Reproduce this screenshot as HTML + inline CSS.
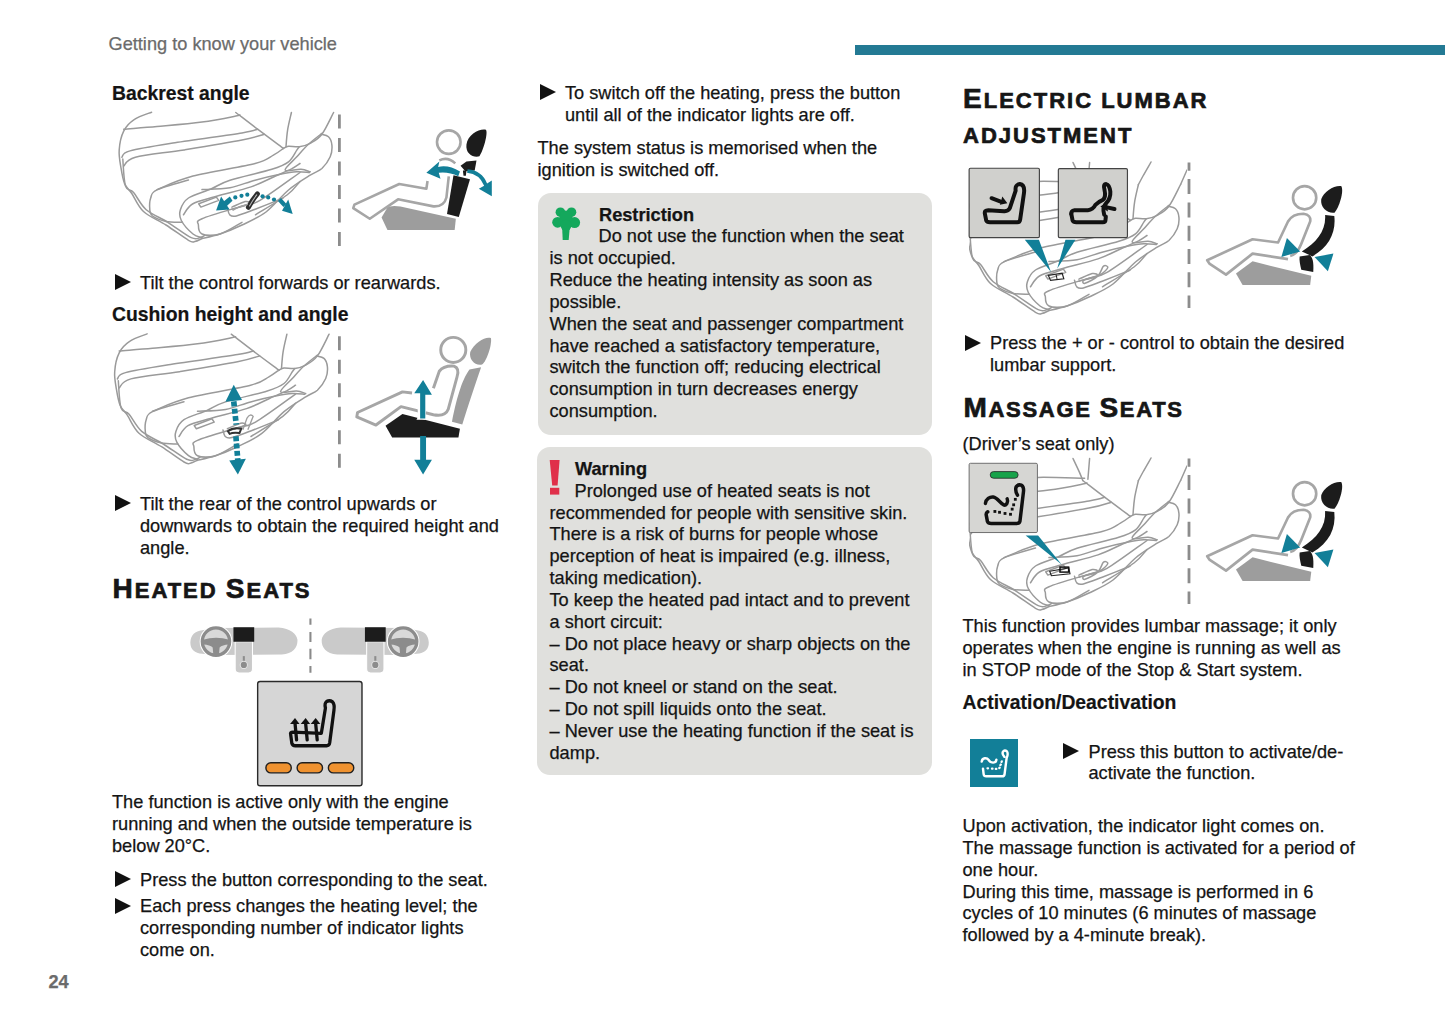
<!DOCTYPE html>
<html><head><meta charset="utf-8">
<style>
html,body{margin:0;padding:0;background:#fff;}
body{width:1445px;height:1018px;position:relative;overflow:hidden;}
.t{position:absolute;font:18.2px/21.85px "Liberation Sans",sans-serif;color:#141414;white-space:nowrap;-webkit-text-stroke:0.25px currentColor;}
.b{font-weight:bold;}
.h3{position:absolute;font:bold 19.35px/22px "Liberation Sans",sans-serif;color:#141414;white-space:nowrap;-webkit-text-stroke:0.2px currentColor;}
.sc{position:absolute;font:bold 22px/35px "Liberation Sans",sans-serif;color:#161616;white-space:nowrap;letter-spacing:2px;-webkit-text-stroke:0.7px #161616;}
.sc span{font-size:28px;}
.tri{position:absolute;width:0;height:0;border-top:8px solid transparent;border-bottom:8px solid transparent;border-left:16px solid #111;margin-top:-0.5px;}
.box{position:absolute;background:#e0e0dd;border-radius:13px;}
svg{position:absolute;left:0;top:0;}
</style></head><body>

<div class="t" style="left:108.5px;top:34px;color:#6b6b6b">Getting to know your vehicle</div>
<div style="position:absolute;left:855px;top:45px;width:590px;height:10px;background:#237a94"></div>

<!-- column 1 -->
<div class="h3" style="left:112px;top:81.6px">Backrest angle</div>
<div class="tri" style="left:114.5px;top:274px"></div>
<div class="t" style="left:140px;top:272.5px">Tilt the control forwards or rearwards.</div>
<div class="h3" style="left:112px;top:303.3px">Cushion height and angle</div>
<div class="tri" style="left:114.5px;top:495px"></div>
<div class="t" style="left:140px;top:494px">Tilt the rear of the control upwards or<br>downwards to obtain the required height and<br>angle.</div>
<div class="sc" style="left:112.5px;top:571px"><span>H</span>EATED <span>S</span>EATS</div>
<div class="t" style="left:112px;top:792px">The function is active only with the engine<br>running and when the outside temperature is<br>below 20°C.</div>
<div class="tri" style="left:114.5px;top:871px"></div>
<div class="t" style="left:140px;top:869.7px">Press the button corresponding to the seat.</div>
<div class="tri" style="left:114.5px;top:898px"></div>
<div class="t" style="left:140px;top:896.3px">Each press changes the heating level; the<br>corresponding number of indicator lights<br>come on.</div>
<div class="t b" style="left:48.5px;top:972px;color:#6b6b6b">24</div>

<!-- column 2 -->
<div class="tri" style="left:539.8px;top:84.5px"></div>
<div class="t" style="left:565px;top:83.2px">To switch off the heating, press the button<br>until all of the indicator lights are off.</div>
<div class="t" style="left:537.5px;top:138px">The system status is memorised when the<br>ignition is switched off.</div>

<div class="box" style="left:537.5px;top:192.5px;width:394px;height:242px"></div>
<div class="t b" style="left:599px;top:204.5px">Restriction</div>
<div class="t" style="left:598.5px;top:226.4px">Do not use the function when the seat</div>
<div class="t" style="left:549.5px;top:248.2px">is not occupied.<br>Reduce the heating intensity as soon as<br>possible.<br>When the seat and passenger compartment<br>have reached a satisfactory temperature,<br>switch the function off; reducing electrical<br>consumption in turn decreases energy<br>consumption.</div>

<div class="box" style="left:537px;top:447px;width:395px;height:328px"></div>
<div class="t b" style="left:575px;top:459px">Warning</div>
<div class="t" style="left:574.5px;top:480.5px">Prolonged use of heated seats is not</div>
<div class="t" style="left:549.5px;top:502.5px">recommended for people with sensitive skin.<br>There is a risk of burns for people whose<br>perception of heat is impaired (e.g. illness,<br>taking medication).<br>To keep the heated pad intact and to prevent<br>a short circuit:<br>– Do not place heavy or sharp objects on the<br>seat.<br>– Do not kneel or stand on the seat.<br>– Do not spill liquids onto the seat.<br>– Never use the heating function if the seat is<br>damp.</div>

<!-- column 3 -->
<div class="sc" style="left:963px;top:81px"><span>E</span>LECTRIC LUMBAR<br>ADJUSTMENT</div>
<div class="tri" style="left:965px;top:335px"></div>
<div class="t" style="left:990px;top:333px">Press the + or - control to obtain the desired<br>lumbar support.</div>
<div class="sc" style="left:963.5px;top:390px;letter-spacing:1.7px"><span>M</span>ASSAGE <span>S</span>EATS</div>
<div class="t" style="left:962.5px;top:433.6px">(Driver’s seat only)</div>
<div class="t" style="left:962.5px;top:616px">This function provides lumbar massage; it only<br>operates when the engine is running as well as<br>in STOP mode of the Stop &amp; Start system.</div>
<div class="h3" style="left:962.5px;top:691px">Activation/Deactivation</div>
<div class="tri" style="left:1063px;top:743px"></div>
<div class="t" style="left:1088.5px;top:741.6px">Press this button to activate/de-<br>activate the function.</div>
<div class="t" style="left:962.5px;top:816px">Upon activation, the indicator light comes on.<br>The massage function is activated for a period of<br>one hour.<br>During this time, massage is performed in 6<br>cycles of 10 minutes (6 minutes of massage<br>followed by a 4-minute break).</div>

<!-- GRAPHICS -->
<svg width="1445" height="1018" viewBox="0 0 1445 1018">
<defs>
<g id="seat1" fill="none" stroke="#9a9a9a" stroke-width="1.5" stroke-linecap="round" stroke-linejoin="round">
<path d="M151.6,112.2 C148.7,113.4 139.1,116.2 134.5,119.4 C129.8,122.5 126.2,126.0 123.7,131.1 C121.1,136.2 119.6,143.8 119.2,150.0 C118.7,156.1 120.1,162.4 121.0,168.0 C121.9,173.6 122.8,179.3 124.6,183.6 C126.4,187.9 128.6,188.8 131.8,193.5 C134.9,198.1 137.8,206.2 143.5,211.5 C149.2,216.7 158.5,220.2 166.0,225.0 C173.5,229.8 183.7,237.5 188.5,240.3 C193.3,243.1 192.5,241.9 194.8,241.6 C197.0,241.3 200.8,239.0 202.0,238.5"/>
<path d="M122.8,159.0 C123.2,163.5 123.7,180.4 125.5,186.0 C127.3,191.6 130.1,188.6 133.6,192.6 C137.0,196.5 140.5,204.7 146.2,209.7 C151.9,214.6 160.3,217.6 167.8,222.3 C175.3,226.9 185.8,235.0 191.2,237.6 C196.6,240.1 197.9,238.0 200.2,237.6 C202.4,237.2 203.9,235.7 204.7,235.3"/>
<path d="M123.7,129.3 C129.2,128.8 143.9,127.8 157.0,126.6 C170.0,125.4 188.6,123.9 202.0,122.1 C215.3,120.3 231.0,117.0 237.1,115.8 C243.1,114.6 238.1,115.2 238.4,115.0"/>
<path d="M235.8,112.5 C239.5,115.3 249.6,123.2 257.6,129.2 C265.5,135.2 279.1,145.2 283.4,148.4"/>
<path d="M121.9,157.2 C123.2,156.1 121.1,153.3 130.0,150.9 C138.8,148.5 156.3,145.8 175.0,142.8 C193.6,139.8 228.2,135.2 242.0,132.9 C255.8,130.6 255.0,129.8 257.6,129.2"/>
<path d="M123.7,166.2 C125.6,164.7 125.3,159.9 135.4,157.2 C145.4,154.5 166.2,152.8 184.0,150.0 C201.7,147.1 228.6,142.7 242.0,140.1 C255.4,137.5 260.5,135.2 264.2,134.2"/>
<path d="M291.4,112.5 C290.8,115.4 288.5,124.3 287.6,130.1 C286.7,135.8 286.2,144.0 286.0,146.8"/>
<path d="M283.4,148.4 C284.3,148.1 285.8,146.6 288.5,146.3 C291.1,146.1 295.7,147.2 299.3,146.8 C302.9,146.3 306.4,145.5 310.2,143.4 C313.9,141.3 318.0,139.4 321.9,134.2 C325.8,129.1 331.6,116.1 333.6,112.5"/>
<path d="M188.5,180.0 C183.2,181.6 163.3,186.9 157.0,189.9 C150.7,192.9 151.9,194.7 150.7,198.0 C149.5,201.3 149.5,206.7 149.8,209.7 C150.1,212.7 149.8,214.0 152.5,216.0 C155.2,217.9 161.0,220.3 166.0,221.4 C170.9,222.4 179.5,222.1 182.2,222.3"/>
<path d="M157.0,189.6 C163.0,187.3 176.6,180.4 193.0,176.1 C209.3,171.7 241.6,167.0 255.1,163.5 C268.5,160.0 268.7,157.6 273.4,155.1 C278.2,152.6 281.8,149.5 283.4,148.4"/>
<path d="M202.0,237.6 C200.5,237.0 196.4,236.8 193.0,234.0 C189.5,231.1 183.4,224.5 181.3,220.5 C179.2,216.4 179.2,213.4 180.4,209.7 C181.6,205.9 183.4,201.4 188.5,198.0 C193.6,194.5 204.0,192.0 211.0,189.0 C217.9,186.0 219.9,183.4 230.0,180.2 C240.1,176.9 262.0,172.4 271.8,169.3 C281.5,166.2 284.3,165.0 288.5,161.8 C292.6,158.6 295.0,152.6 296.8,150.1 C298.6,147.6 298.9,147.3 299.3,146.8"/>
<path d="M202.0,189.6 C206.6,189.3 221.2,189.2 230.0,187.7 C238.8,186.1 246.7,182.4 255.1,180.2 C263.4,177.9 273.1,175.7 280.1,174.3 C287.1,172.9 291.9,172.1 296.8,171.8 C301.7,171.5 307.3,172.5 309.3,172.6"/>
<path d="M321.0,134.2 C322.3,134.6 326.7,134.9 328.5,136.7 C330.4,138.5 331.6,141.7 331.9,145.1 C332.2,148.4 331.9,152.9 330.2,156.8 C328.5,160.7 325.2,165.4 321.9,168.5 C318.5,171.5 315.7,171.6 310.2,175.2 C304.6,178.7 295.8,183.9 288.5,190.0 C281.1,196.2 273.7,206.2 266.0,212.0 C258.3,217.8 249.7,221.3 242.0,225.0 C234.3,228.7 226.7,231.8 220.0,234.0 C213.3,236.2 205.0,237.8 202.0,238.5"/>
<path d="M321.9,133.4 C319.6,135.2 312.7,140.4 308.5,144.3 C304.3,148.1 300.7,152.5 296.8,156.8 C292.9,161.1 284.4,168.1 285.1,170.1 C285.8,172.2 296.8,169.0 301.0,169.3 C305.2,169.6 308.6,171.4 310.2,171.8"/>
<path d="M242.0,222.3 C238.3,224.2 226.6,232.0 220.0,234.0 C213.3,235.9 205.6,235.5 202.0,234.0 C198.4,232.5 198.4,227.5 198.4,225.0 C198.4,222.4 194.7,221.8 202.0,218.7 C209.2,215.5 232.3,209.1 242.0,206.1 C251.7,203.0 250.3,206.0 260.0,200.4 C269.6,194.8 293.3,177.1 300.0,172.5"/>
<path d="M183.5,214.8 C185.0,213.0 187.2,207.0 192.5,204.0 C197.7,201.0 205.2,199.6 215.0,196.8 C224.7,193.9 241.2,190.2 251.0,186.9 C260.7,183.6 266.7,180.0 273.5,177.0 C280.2,174.0 287.0,171.1 291.5,168.9 C295.9,166.6 298.6,164.4 300.0,163.5"/>
<path d="M255.5,214.8 C260.7,211.5 279.5,200.5 287.0,195.0 C294.4,189.4 297.8,183.7 300.0,181.5"/>
<path d="M227.5,208.2 C227.9,209.3 228.2,213.5 229.7,214.8 C231.2,216.1 232.1,216.9 236.4,215.9 C240.6,215.0 247.4,212.2 255.2,209.3 C262.9,206.3 278.3,200.1 282.9,198.2"/>
<path d="M231.9,209.3 C234.9,208.4 247.4,205.0 249.7,203.8 C251.9,202.5 248.2,201.0 245.2,201.5 C242.3,202.1 234.2,206.2 231.9,207.1"/>
<path d="M198.7,203.8 L216.4,197.1 L218.7,200.4 L200.9,207.1 Z"/>
</g>
<g id="seatx" fill="none" stroke="#9a9a9a" stroke-width="1.5" stroke-linecap="round" stroke-linejoin="round">
<use href="#seat1"/>
<path d="M226.0,90.5 C227.1,92.8 231.0,100.9 232.6,104.6 C234.2,108.3 235.3,111.2 235.8,112.5"/>
<path d="M242.6,90.5 L240.9,111.2"/>
<path d="M304.0,90.0 C302.7,92.3 298.1,100.2 296.0,104.0 C293.9,107.8 292.2,111.1 291.4,112.5"/>
<path d="M340.0,98.0 L333.6,112.5"/>
<path d="M150.0,112.0 C156.8,111.6 176.4,109.7 191.0,109.4 C205.6,109.1 229.8,110.1 237.6,110.2"/>
<path d="M236.6,208.4 C238.0,207.4 243.7,206.6 246.5,205.6 C249.3,204.6 251.3,204.4 253.7,202.7 C256.1,201.0 260.3,197.0 260.8,195.6 C261.3,194.2 258.2,192.8 256.5,194.2 C254.8,195.6 253.9,201.2 250.8,204.1 C247.7,206.9 240.4,210.6 238.0,211.3 C235.6,212.0 235.2,209.4 236.6,208.4 Z"/>
</g>
<clipPath id="clipL"><rect x="969" y="161" width="218" height="160"/></clipPath>
<clipPath id="clipM"><rect x="969" y="457" width="218" height="160"/></clipPath>
</defs>

<!-- ============ Illustration 2 (cushion) ============ -->
<use href="#seat1" transform="translate(-4.5,221.7)"/>
<!-- ============ Illustration 1 (backrest) ============ -->
<use href="#seat1"/>
<!-- dashed dividers col1 -->
<line x1="339.4" y1="114.6" x2="339.4" y2="247" stroke="#8c8c8c" stroke-width="2.8" stroke-dasharray="14,9.5"/>
<line x1="339.4" y1="336.3" x2="339.4" y2="468.7" stroke="#8c8c8c" stroke-width="2.8" stroke-dasharray="14,9.5"/>

<!-- teal dotted arrow ill.1 -->
<g fill="#127f98">
<polygon points="216.1,210.4 221.1,196.5 229.6,209.4"/>
<polygon points="222.1,202.8 229.8,196.5 232.5,200.8 226.3,206.6"/>
<polygon points="292.7,213.9 282.0,210.8 288.2,199.4"/>
<polygon points="277.9,201.1 281.0,198.1 286.5,203.9 283.4,207.0"/>
<circle cx="235.3" cy="197.4" r="2.1"/>
<circle cx="241.5" cy="195.8" r="2.1"/>
<circle cx="247.3" cy="194.7" r="2.1"/>
<circle cx="262.6" cy="196.3" r="2.1"/>
<circle cx="268.2" cy="197.4" r="2.1"/>
<circle cx="274.0" cy="199.5" r="2.1"/>
</g>
<path d="M248.4,207.3 Q252.6,199.4 257.4,193.8" fill="none" stroke="#2e2e2e" stroke-width="5" stroke-linecap="round"/>
<path d="M249.5,206.0 Q252.9,199.7 256.7,194.9" fill="none" stroke="#b9b9b9" stroke-width="1.1" stroke-linecap="round"/>
<path d="M232.5,210.4 Q238.8,206.3 247.8,204.2" fill="none" stroke="#a0a0a0" stroke-width="1.6"/>
<!-- teal dotted arrow ill.2 -->
<g transform="translate(110,330) scale(0.16609)" fill="#127f98">
  <path d="M745,430 L760,570" fill="none" stroke="#127f98" stroke-width="34" stroke-dasharray="30,14"/>
  <path d="M758,640 L770,790" fill="none" stroke="#127f98" stroke-width="34" stroke-dasharray="30,14"/>
  <polygon points="695,432 745,330 795,422"/>
  <polygon points="718,785 770,870 818,775"/>
  <path d="M800,600 L825,530 Q845,500 862,520 L830,600" fill="none" stroke="#9e9e9e" stroke-width="8"/>
  <path d="M710,610 Q740,585 790,595 L780,620 Q740,615 720,625 Z" fill="none" stroke="#333" stroke-width="12"/>
</g>

<!-- ============ figure ill.1 right ============ -->
<g transform="translate(345,115) scale(0.11792)">
  <path d="M310,870 L360,785 Q380,765 470,775 L940,880 L930,975 L360,975 Z" fill="#9d9d9d"/>
  <path d="M920,510 L1060,545 L965,865 L865,840 Z" fill="#1c1c1c"/>
  <path d="M1030,250 C1040,160 1150,110 1195,125 C1215,150 1175,300 1140,350 C1090,365 1020,330 1030,250 Z" fill="#1c1c1c"/>
  <path d="M980,430 L1030,395 L1115,385 L1100,470 L1020,478 Z" fill="#1c1c1c"/>
  <path d="M1000,470 L1030,470 L1025,515 L1005,515 Z" fill="#1c1c1c"/>
  <circle cx="880" cy="230" r="100" fill="none" stroke="#a6a6a6" stroke-width="22"/>
  <path d="M800,385 Q870,350 935,410 M880,520 L860,700 Q840,780 750,775 L450,715 L210,880 L70,790 L80,760 L460,585 L690,625 L700,560" fill="none" stroke="#a6a6a6" stroke-width="22" stroke-linejoin="round"/>
  <path d="M975,480 Q880,420 790,440 L800,395 L690,490 L810,540 L795,490 Q880,480 960,520 Z" fill="#127f98"/>
  <path d="M1035,490 Q1140,500 1180,600 L1135,625 L1245,690 L1245,555 L1205,580 Q1160,470 1040,460 Z" fill="#127f98"/>
</g>

<!-- ============ figure ill.2 right ============ -->
<g transform="translate(345,330) scale(0.14733)">
  <path d="M850,150 C880,80 960,40 990,55 C1000,90 965,210 930,235 C880,245 840,200 850,150 Z" fill="#9d9d9d"/>
  <path d="M845,268 C800,330 765,430 726,622 L796,642 C840,500 880,380 924,252 Z" fill="#9d9d9d"/>
  <path d="M275,650 L390,570 L780,670 L770,730 L320,730 Z" fill="#1c1c1c"/>
  <circle cx="735" cy="135" r="85" fill="none" stroke="#a6a6a6" stroke-width="20"/>
  <path d="M600,395 L640,280 Q670,240 740,245 Q780,260 760,320 L700,540 Q680,590 600,575 L380,520 L210,645 L80,590 L85,560 L390,420 L455,428" fill="none" stroke="#a6a6a6" stroke-width="20" stroke-linejoin="round"/>
  <path d="M505,610 L485,610 L495,590 L490,430 L470,430 L530,340 L590,430 L560,430 L545,610 Z" fill="#fff"/>
  <path d="M510,600 L545,600 L545,440 L590,440 L530,340 L470,430 L510,430 Z" fill="#127f98"/>
  <path d="M510,720 L550,720 L550,880 L590,880 L530,980 L470,880 L510,880 Z" fill="#127f98"/>
</g>

<!-- ============ heated dashboards ============ -->
<g transform="translate(185,612) scale(0.17301)">
  <g id="dash">
    <path d="M31,176 C33,132 58,112 100,106 L170,92 L540,90 C610,95 645,128 650,160 C652,205 625,240 560,246 L170,248 L100,242 C55,238 30,215 31,176 Z" fill="#cacaca"/>
    <path d="M290,172 L390,172 L390,330 Q390,352 368,352 L312,352 Q290,352 290,330 Z" fill="#cacaca" stroke="#fff" stroke-width="6"/>
    <circle cx="179" cy="171" r="79" fill="none" stroke="#fff" stroke-width="31"/>
    <circle cx="179" cy="171" r="79" fill="#d9d9d9" stroke="#8c8c8c" stroke-width="19"/>
    <path d="M104,160 Q180,138 256,160 L254,188 Q215,190 200,205 L196,250 L164,250 L160,205 Q145,190 106,188 Z" fill="#8c8c8c"/>
    <rect x="280" y="88" width="120" height="84" fill="#1c1c1c"/>
    <line x1="340" y1="255" x2="340" y2="300" stroke="#8c8c8c" stroke-width="12"/>
    <circle cx="340" cy="306" r="21" fill="#8c8c8c" stroke="#e4e4e4" stroke-width="6"/>
  </g>
  <use href="#dash" transform="translate(1440,0) scale(-1,1)"/>
  <path d="M725,38 V73 M725,116 V173 M725,213 V273 M725,312 V351" stroke="#8a8a8a" stroke-width="12"/>
</g>

<!-- heated button -->
<g transform="translate(250,675) scale(0.11788)">
  <rect x="65" y="55" width="885" height="885" rx="20" fill="#d6d6d6" stroke="#2a2a2a" stroke-width="12"/>
  <rect x="135" y="745" width="215" height="85" rx="42" fill="#ef9230" stroke="#1f1f1f" stroke-width="12"/>
  <rect x="400" y="745" width="215" height="85" rx="42" fill="#ef9230" stroke="#1f1f1f" stroke-width="12"/>
  <rect x="665" y="745" width="215" height="85" rx="42" fill="#ef9230" stroke="#1f1f1f" stroke-width="12"/>
  <g fill="none" stroke="#111" stroke-width="28" stroke-linejoin="round" stroke-linecap="round">
    <path d="M345,505 L355,580 Q360,600 385,600 L650,600 Q672,600 676,575 L712,300 Q720,250 700,228 Q675,210 650,225 Q630,240 640,280 L605,495 L365,485 Q338,485 345,505 Z"/>
    <path d="M395,550 L382,410 M485,550 L472,410 M570,550 L557,410"/>
  </g>
  <g fill="#111">
    <polygon points="340,415 382,365 420,415"/>
    <polygon points="430,415 472,365 510,415"/>
    <polygon points="515,415 557,365 597,415"/>
  </g>
</g>

<!-- restriction tree -->
<g fill="#14a85c">
  <circle cx="560.4" cy="212.2" r="4.8"/>
  <circle cx="571.5" cy="212.2" r="4.8"/>
  <circle cx="557.6" cy="222.3" r="5.4"/>
  <circle cx="574.6" cy="222.6" r="5.5"/>
  <circle cx="566" cy="217" r="6.6"/>
  <circle cx="566" cy="225.3" r="5.6"/>
  <path d="M562.2,229 L569.6,229 L568.7,239.9 L562.7,239.9 Z"/>
</g>
<!-- warning ! -->
<g fill="#e0304a">
  <path d="M549.7,460.1 L559.6,460.1 L557.6,485.4 L552.2,485.4 Z"/>
  <rect x="550" y="487.8" width="9.3" height="6.8"/>
</g>

<!-- ============ lumbar ============ -->
<g clip-path="url(#clipL)"><use href="#seatx" transform="translate(847,72)"/></g>
<g transform="translate(960,155) scale(0.16611)">
  <rect x="55" y="80" width="423" height="417" rx="8" fill="#d0d0cd" stroke="#444" stroke-width="7"/>
  <rect x="592" y="82" width="416" height="415" rx="8" fill="#d0d0cd" stroke="#444" stroke-width="7"/>
  <polygon points="390,510 475,510 548,705" fill="#127f98"/>
  <polygon points="635,510 695,510 585,685" fill="#127f98"/>
  <path d="M532,725 L615,712 L625,745 L545,755 Z" fill="none" stroke="#222" stroke-width="7"/>
  <line x1="578" y1="718" x2="585" y2="750" stroke="#222" stroke-width="6"/>
  <g fill="none" stroke="#111" stroke-width="24" stroke-linejoin="round" stroke-linecap="round">
    <path d="M150,355 L158,395 Q162,405 180,405 L345,405 Q360,405 362,390 L385,230 Q392,180 360,175 Q330,178 335,215 L300,320 Q290,340 265,338 L170,332 Q145,332 150,355 Z"/>
    <path d="M190,260 L245,280"/>
    <path d="M670,355 L678,395 Q682,405 700,405 L860,405 Q875,405 876,390 L878,370"/>
    <path d="M670,355 Q668,335 690,332 L770,332 Q800,330 815,300 Q835,280 860,270 Q880,255 870,210 Q860,175 880,175 Q900,180 905,220 Q908,260 880,290 Q855,315 868,360"/>
    <path d="M930,325 L885,315"/>
  </g>
  <polygon points="240,300 285,290 255,250" fill="#111"/>
  <polygon points="845,310 885,285 890,340" fill="#111"/>
</g>
<line x1="1189" y1="162.5" x2="1189" y2="308" stroke="#8c8c8c" stroke-width="2.8" stroke-dasharray="15,8.3" stroke-dashoffset="6.7"/>

<!-- lumbar figure -->
<g id="lumfig" transform="translate(1195,175) scale(0.11073)">
  <path d="M370,890 L520,780 L1050,910 L1040,993 L430,993 Z" fill="#9d9d9d"/>
  <path d="M1140,220 C1160,150 1260,90 1320,100 C1350,140 1300,300 1260,340 C1200,350 1130,300 1140,220 Z" fill="#1c1c1c"/>
  <path d="M1175,362 L1258,370 C1275,520 1210,650 1060,735 L965,690 C1100,610 1185,500 1175,362 Z" fill="#1c1c1c"/>
  <path d="M945,735 L1035,722 C1060,740 1075,780 1068,875 L960,855 C950,810 940,770 945,735 Z" fill="#1c1c1c"/>
  
  <circle cx="990" cy="205" r="105" fill="none" stroke="#a6a6a6" stroke-width="24"/>
  <path d="M860,730 Q920,720 960,620 L1040,420 Q1050,360 980,350 Q880,350 840,420 L750,610 L520,580 L110,770 L130,800 L280,900 L520,710 L840,760" fill="none" stroke="#a6a6a6" stroke-width="24" stroke-linejoin="round"/>
  <polygon points="830,570 950,690 780,740" fill="#127f98"/>
  <polygon points="1250,710 1200,870 1080,740" fill="#127f98"/>
</g>
<use href="#lumfig" transform="translate(0,296)"/>

<!-- ============ massage ============ -->
<g clip-path="url(#clipM)"><use href="#seatx" transform="translate(847,368)"/></g>
<g transform="translate(960,450) scale(0.16611)">
  <rect x="55" y="80" width="411" height="417" rx="8" fill="#d6d6d3" stroke="#6e6e6e" stroke-width="6"/>
  <rect x="182" y="130" width="168" height="40" rx="20" fill="#17a34a" stroke="#2a2a2a" stroke-width="5"/>
  <polygon points="395,515 470,515 612,690" fill="#127f98"/>
  <path d="M540,730 L655,710 L662,745 L550,757 Z" fill="none" stroke="#222" stroke-width="7"/>
  <rect x="602" y="705" width="52" height="30" fill="none" stroke="#111" stroke-width="9"/>
  <g fill="none" stroke="#111" stroke-width="21" stroke-linejoin="round" stroke-linecap="round">
    <path d="M167,372 Q155,380 158,392 L165,430 Q170,443 188,443 L336,443 Q358,443 361,428 L382,252 Q386,222 370,212 Q350,205 338,222 Q330,245 346,272"/>
    <path d="M153,322 C155,295 180,281 200,283 C225,287 240,318 262,330 C280,338 292,312 284,294"/>
  </g>
  <g fill="#111">
    <rect x="201.5" y="361.5" width="17" height="17"/><rect x="229.5" y="366.5" width="17" height="17"/><rect x="262.5" y="373.5" width="17" height="17"/><rect x="295.5" y="378.5" width="17" height="17"/><rect x="324.5" y="288.5" width="17" height="17"/><rect x="314.5" y="321.5" width="17" height="17"/><rect x="305.5" y="347.5" width="17" height="17"/>
  </g>
</g>
<line x1="1189" y1="458.5" x2="1189" y2="604" stroke="#8c8c8c" stroke-width="2.8" stroke-dasharray="15,8.3" stroke-dashoffset="6.7"/>

<!-- teal massage button -->
<rect x="970" y="739" width="48" height="48" fill="#127f98"/>
<g transform="translate(960,730) scale(0.06386)" fill="none" stroke="#fff" stroke-width="38" stroke-linecap="round" stroke-linejoin="round">
  <path d="M360,605 L370,690 Q375,725 410,725 L660,725 Q695,725 698,690 L730,440 Q760,370 735,335 Q700,305 672,340 Q655,380 695,420"/>
  <path d="M340,495 C350,430 420,430 450,470 C480,520 560,530 570,465"/>
  <path d="M430,600 L440,600 M500,605 L510,605 M560,610 L570,610 M615,595 L622,590 M632,550 L640,540 M650,500 L655,490" stroke-width="34"/>
</g>

</svg>

</body></html>
